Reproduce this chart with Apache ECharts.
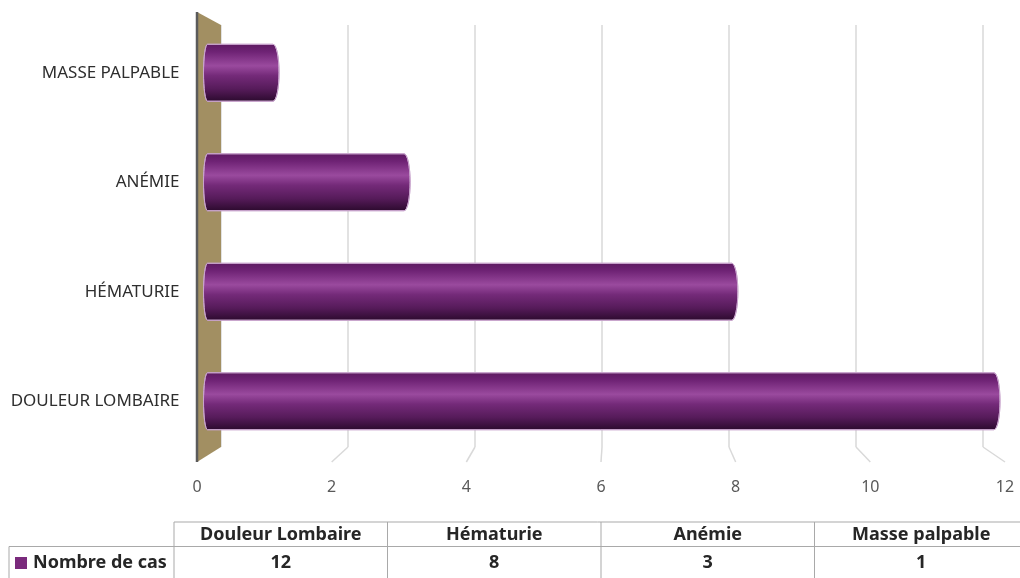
<!DOCTYPE html>
<html>
<head>
<meta charset="utf-8">
<script src="https://cdn.jsdelivr.net/npm/echarts@6/dist/echarts.min.js"></script>
<style>
  html, body { margin: 0; padding: 0; background: #ffffff; }
  #chart { width: 1020px; height: 578px; }
</style>
</head>
<body>
<div id="chart"></div>
<script>
// Symptoms and case counts (first category sits at the bottom of the axis)
const categories = ['Douleur Lombaire', 'Hématurie', 'Anémie', 'Masse palpable'];
const caseCounts = [12, 8, 3, 1];
const seriesName = 'Nombre de cas';
const xTicks = [0, 2, 4, 6, 8, 10, 12];

const FONT = "'Noto Sans', 'Open Sans', sans-serif";
const BAR_COLOR = '#7a2a7c';
const GRID_LINE = '#d9d9d9';
const TABLE_LINE = '#a9a9a9';

const xMin = xTicks[0];
const xMax = xTicks[xTicks.length - 1];
const xStep = xTicks[1] - xTicks[0];

const chart = echarts.init(document.getElementById('chart'), null, { renderer: 'canvas' });

// Cylinder shading, dark top edge -> highlight -> deep shadow at the bottom
const cylinderFill = {
  type: 'linear', x: 0, y: 0, x2: 0, y2: 1,
  colorStops: [
    { offset: 0.00, color: '#5c1a60' },
    { offset: 0.14, color: '#6f2375' },
    { offset: 0.38, color: '#9a4a9e' },
    { offset: 0.55, color: '#742a79' },
    { offset: 0.78, color: '#561b5a' },
    { offset: 1.00, color: '#2b0a2d' }
  ]
};

function renderCylinder(params, api) {
  const cat = api.value(1);
  const start = api.coord([xMin, cat]);
  const end = api.coord([api.value(0), cat]);
  const h = api.size([0, 1])[1] * 0.52;
  const r = h / 2;
  const y0 = start[1] - r, y1 = start[1] + r;
  const x0 = start[0], x1 = end[0];
  const rxL = 4, rxR = 6;
  const body = 'M' + x0 + ' ' + y0 + ' L' + x1 + ' ' + y0 +
    ' A' + rxR + ' ' + r + ' 0 0 1 ' + x1 + ' ' + y1 +
    ' L' + x0 + ' ' + y1 +
    ' A' + rxL + ' ' + r + ' 0 0 1 ' + x0 + ' ' + y0 + ' Z';
  return {
    type: 'path',
    shape: { pathData: body },
    style: { fill: cylinderFill, stroke: '#c9a4cd', lineWidth: 1 }
  };
}

const option = {
  backgroundColor: '#ffffff',
  animation: false,
  grid: [
    // bars (front plane)
    { left: 207.5, right: 26, top: 18, bottom: 122 },
    // back wall carrying the gridlines
    { left: 221, right: 37, top: 25, bottom: 131 },
    // floor edge carrying the value labels
    { left: 197, right: 15, top: 447, bottom: 116 }
  ],
  xAxis: [
    {
      gridIndex: 0, type: 'value', min: xMin, max: xMax, interval: xStep,
      axisLine: { show: false }, axisTick: { show: false },
      axisLabel: { show: false }, splitLine: { show: false }
    },
    {
      gridIndex: 1, type: 'value', min: xMin, max: xMax, interval: xStep,
      axisLine: { show: false }, axisTick: { show: false },
      axisLabel: { show: false },
      splitLine: { show: true, lineStyle: { color: GRID_LINE, width: 1.5 } }
    },
    {
      gridIndex: 2, type: 'value', min: xMin, max: xMax, interval: xStep,
      axisLine: { show: false }, axisTick: { show: false },
      splitLine: { show: false },
      axisLabel: {
        margin: 17, color: '#595959', fontFamily: FONT, fontSize: 16,
        formatter: function (v) { return String(v); }
      }
    }
  ],
  yAxis: [
    {
      gridIndex: 0, type: 'category', data: categories,
      axisLine: { show: false }, axisTick: { show: false },
      axisLabel: {
        margin: 28, color: '#2e2e2e', fontFamily: FONT, fontSize: 17,
        formatter: function (v) { return v.toUpperCase(); }
      }
    },
    { gridIndex: 1, type: 'value', min: 0, max: 1, show: false },
    { gridIndex: 2, type: 'value', min: 0, max: 1, show: false }
  ],
  series: [
    {
      name: seriesName,
      type: 'custom',
      xAxisIndex: 0, yAxisIndex: 0,
      renderItem: renderCylinder,
      encode: { x: 0, y: 1 },
      data: caseCounts.map(function (v, i) { return [v, i]; }),
      z: 3
    }
  ]
};

chart.setOption(option);

// Perspective pieces: side wall, floor kinks of the gridlines, data table
function backPt(v, t) { return chart.convertToPixel({ xAxisIndex: 1, yAxisIndex: 1 }, [v, t]); }
function frontPt(v, t) { return chart.convertToPixel({ xAxisIndex: 2, yAxisIndex: 2 }, [v, t]); }

const graphics = [];

const wallBackTop = backPt(xMin, 1);
const wallBackBottom = backPt(xMin, 0);
const wallFrontBottom = frontPt(xMin, 0);
const depth = wallFrontBottom[1] - wallBackBottom[1];
const wallFrontTop = [wallFrontBottom[0], wallBackTop[1] - depth + 2];

graphics.push({
  type: 'polygon', z: 1,
  shape: { points: [wallFrontTop, wallBackTop, wallBackBottom, wallFrontBottom] },
  style: { fill: '#a28f62' }
});
graphics.push({
  type: 'line', z: 1,
  shape: { x1: wallFrontTop[0], y1: wallFrontTop[1], x2: wallFrontBottom[0], y2: wallFrontBottom[1] },
  style: { stroke: '#5b5b5b', lineWidth: 2.5 }
});

xTicks.forEach(function (v) {
  if (v === xMin) return;
  graphics.push({
    type: 'polyline', z: 1,
    shape: { points: [backPt(v, 0), frontPt(v, 0)] },
    style: { stroke: GRID_LINE, lineWidth: 1.5, fill: null }
  });
});

// Data table under the plot
const tbl = { left: 9, headLeft: 174, right: 1028, top: 522, rowH: 24.5, bottom: 578 };
const colW = (tbl.right - tbl.headLeft) / categories.length;
const rowSplit = tbl.top + tbl.rowH;
const TABLE_FONT = 'bold 18px ' + FONT;
const line = function (x1, y1, x2, y2) {
  return {
    type: 'line', z: 1,
    shape: { x1: x1, y1: y1, x2: x2, y2: y2 },
    style: { stroke: TABLE_LINE, lineWidth: 1 }
  };
};
graphics.push(line(tbl.headLeft, tbl.top, tbl.right, tbl.top));
graphics.push(line(tbl.left, rowSplit, tbl.right, rowSplit));
graphics.push(line(tbl.left, rowSplit, tbl.left, tbl.bottom));
for (let i = 0; i <= categories.length; i++) {
  const x = tbl.headLeft + i * colW;
  graphics.push(line(x, tbl.top, x, tbl.bottom));
}
// Table columns follow the axis order from the bottom category upwards
categories.forEach(function (name, i) {
  const cx = tbl.headLeft + (i + 0.5) * colW;
  graphics.push({
    type: 'text', z: 2,
    style: {
      text: name, x: cx, y: tbl.top + tbl.rowH / 2 + 1,
      align: 'center', verticalAlign: 'middle',
      font: TABLE_FONT, fill: '#262626'
    }
  });
  graphics.push({
    type: 'text', z: 2,
    style: {
      text: String(caseCounts[i]), x: cx, y: rowSplit + 16,
      align: 'center', verticalAlign: 'middle',
      font: TABLE_FONT, fill: '#262626'
    }
  });
});
graphics.push({
  type: 'rect', z: 2,
  shape: { x: 15, y: 557, width: 12, height: 12 },
  style: { fill: BAR_COLOR }
});
graphics.push({
  type: 'text', z: 2,
  style: {
    text: seriesName, x: 33, y: rowSplit + 16,
    align: 'left', verticalAlign: 'middle',
    font: TABLE_FONT, fill: '#262626'
  }
});

chart.setOption({ graphic: { elements: graphics } });
</script>
</body>
</html>
